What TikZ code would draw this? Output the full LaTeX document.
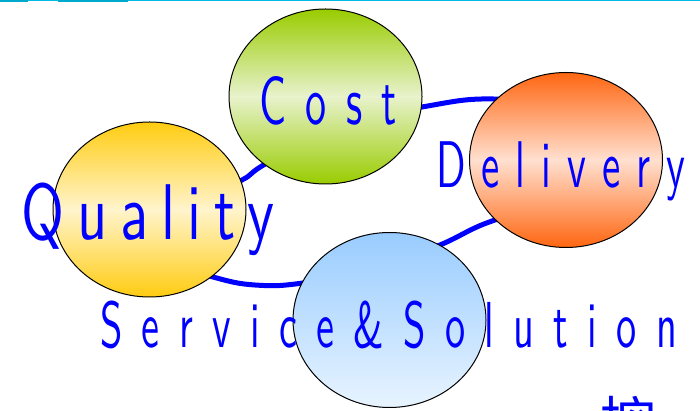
\documentclass[tikz,border=0pt]{standalone}
\usepackage{fontspec}
\usepackage{graphicx}
\usetikzlibrary{shapes.geometric}
\newfontfamily\lblfont{lmsans10-regular.otf}
\newfontfamily\cjkfont{Noto Sans CJK SC}
\definecolor{ringblue}{RGB}{0,0,255}
\definecolor{rulecyan}{RGB}{0,187,230}
\definecolor{rulecyandark}{RGB}{0,170,204}
\definecolor{costgreen}{RGB}{153,204,0}
\definecolor{costlight}{RGB}{232,242,204}
\definecolor{delorange}{RGB}{255,102,17}
\definecolor{dellight}{RGB}{255,224,208}
\definecolor{qualgold}{RGB}{255,204,17}
\definecolor{quallight}{RGB}{255,244,204}
\definecolor{servblue}{RGB}{153,204,255}
\definecolor{servlight}{RGB}{232,244,255}
\newcommand{\lbl}[4]{\scalebox{#1}[1]{\fontsize{#2}{#2}\selectfont\lblfont\addfontfeature{LetterSpace=#3}#4}}

\begin{document}
\begin{tikzpicture}[x=1pt,y=1pt,
  disc/.style={ellipse, draw=black, line width=1pt, minimum width=193pt, minimum height=175pt, inner sep=0pt},
  word/.style={text=ringblue, inner sep=0pt, anchor=base west}]
\useasboundingbox (0,0) rectangle (700,411);

% top rule
\fill[rulecyan] (0,409.5) rectangle (700,411);
\fill[rulecyandark] (0,409) rectangle (28,411);
\fill[rulecyandark] (58,409) rectangle (128,411);

% ring behind the discs
\draw[ringblue, line width=5pt] plot[smooth cycle, tension=0.7] coordinates {
  (422,304) (493,312) (570,301) (625,251) (575,211) (495,191) (440,166)
  (380,143) (303,128) (255,126) (213,134) (165,150) (150,175) (175,200)
  (205,216) (242,231) (267,248) (340,286)};

% discs
\node[disc, top color=costgreen, bottom color=costgreen, middle color=costlight] (cost) at (325.5,314.5) {};
\node[disc, top color=delorange, bottom color=delorange, middle color=dellight] (delivery) at (566,251) {};
\node[disc, top color=qualgold, bottom color=qualgold, middle color=quallight] (quality) at (149.5,201.5) {};
\node[disc, top color=servblue, bottom color=servlight] (service) at (389.5,91) {};

% words
\node[word] (costtxt) at (259,286) {\lbl{0.62}{68}{46}{Cost}};
\node[word] (qualtxt) at (21,171) {\lbl{0.74}{79}{22}{Quality}};
\node[word] (deltxt) at (436,223) {\lbl{0.62}{66}{39}{Delivery}};
\node[word] (servtxt) at (100,63) {\lbl{0.62}{65}{48}{Service\&Solution}};
\node[word] (tail) at (600,-32) {\cjkfont\fontsize{55}{55}\selectfont 控};
\end{tikzpicture}
\end{document}
